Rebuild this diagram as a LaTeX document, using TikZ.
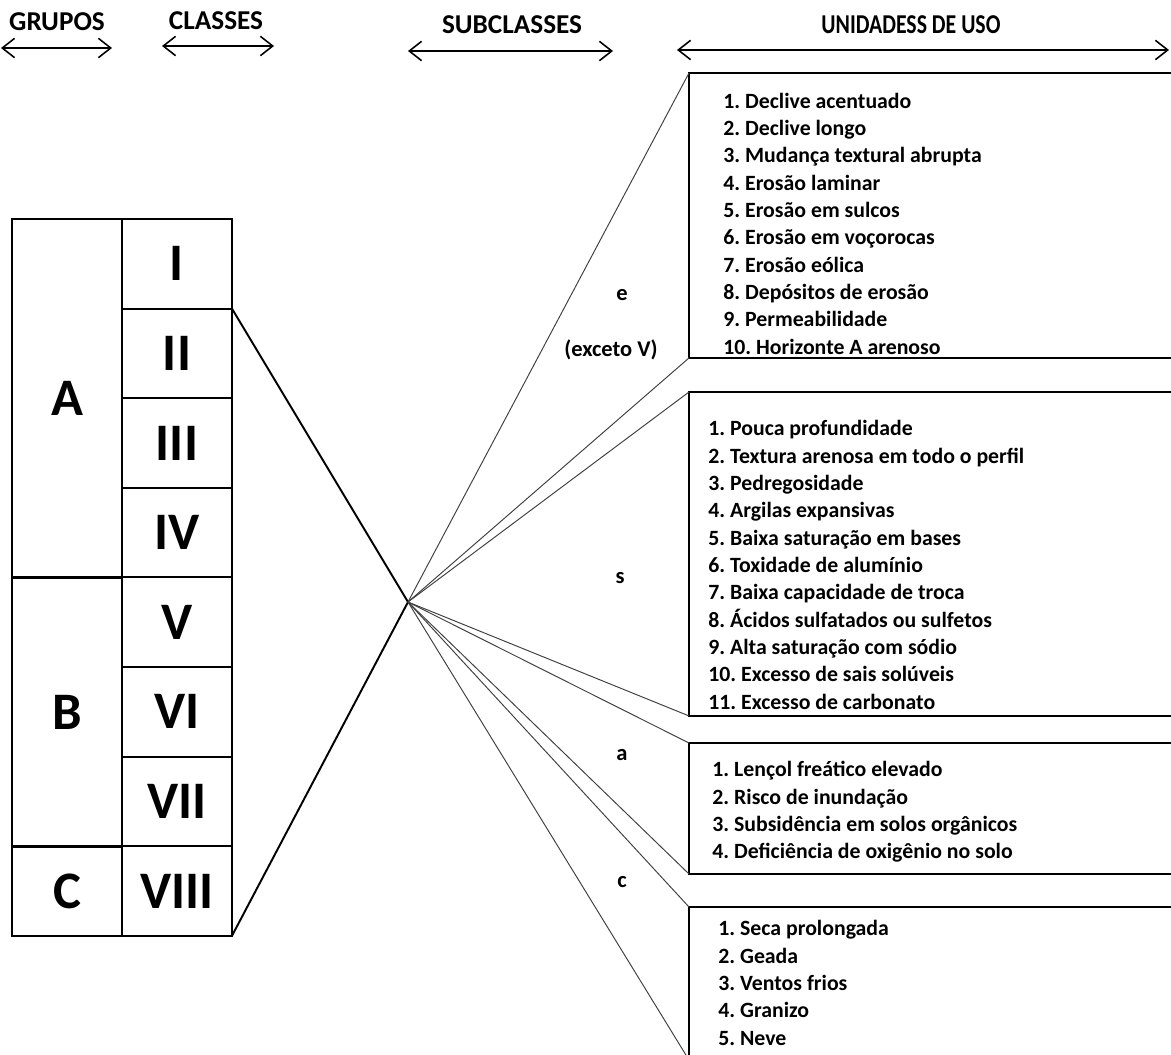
\documentclass[tikz,border=0pt]{standalone}
\usepackage{fontspec}
\setmainfont{Carlito}
\usetikzlibrary{arrows.meta}
\begin{document}
\begin{tikzpicture}[x=0.02cm,y=-0.02cm,
  cell/.style={draw,line width=1.1pt,inner sep=0pt,outer sep=0pt,minimum width=2.2cm,font=\fontsize{30}{36}\selectfont\bfseries},
  hdr/.style={font=\fontsize{15.5}{18}\selectfont\bfseries},
  span/.style={<->,line width=0.9pt,>={Straight Barb[length=7pt,width=11pt]}},
  ubox/.style={draw,line width=1.1pt,anchor=north west,inner sep=0pt,outer sep=0pt,minimum width=9.82cm},
  itemlist/.style={align=left,anchor=west,inner sep=0pt,font=\fontsize{12.4}{15.55}\selectfont\bfseries\frenchspacing},
  sublabel/.style={font=\fontsize{12.8}{15}\selectfont\bfseries},
  fan/.style={line width=0.55pt,black!75},
  link/.style={line width=1.1pt}]
\useasboundingbox (0,0) rectangle (1171,1055);
\clip (0,0) rectangle (1171,1055);

% headers
\node[hdr] (hG) at (57,22) {GRUPOS};
\node[hdr] (hC) at (216,21) {CLASSES};
\node[hdr] (hS) at (512,25) {SUBCLASSES};
\node[hdr] (hU) at (911,25) {\scalebox{0.8}[1]{UNIDADESS DE USO}};
\coordinate (gL) at (1,48);   \coordinate (gR) at (112,48);
\coordinate (cL) at (162,46); \coordinate (cR) at (274,46);
\coordinate (sL) at (408,51); \coordinate (sR) at (613,51);
\coordinate (uL) at (677,50); \coordinate (uR) at (1169,50);
\draw[span] (gL) -- (gR);
\draw[span] (cL) -- (cR);
\draw[span] (sL) -- (sR);
\draw[span] (uL) -- (uR);

% groups
\node[cell,minimum height=7.168cm] (A) at (67,398.2) {A};
\node[cell,minimum height=5.376cm] (B) at (67,712.2) {B};
\node[cell,minimum height=1.792cm] (C) at (67,891) {C};
% classes
\node[cell,minimum height=1.792cm] (c1) at (177,263.8) {I};
\node[cell,minimum height=1.792cm] (c2) at (177,353.4) {II};
\node[cell,minimum height=1.792cm] (c3) at (177,443) {III};
\node[cell,minimum height=1.792cm] (c4) at (177,532.6) {IV};
\node[cell,minimum height=1.792cm] (c5) at (177,622.2) {V};
\node[cell,minimum height=1.792cm] (c6) at (177,711.8) {VI};
\node[cell,minimum height=1.792cm] (c7) at (177,801.4) {VII};
\node[cell,minimum height=1.792cm] (c8) at (177,891) {VIII};

\coordinate (P) at (408,602);
\draw[link] (c2.north east) -- (P) -- (c8.south east);

% use-unit boxes
\node[ubox,minimum height=5.7cm] (eBox) at (689,73) {};
\node[ubox,minimum height=6.48cm] (sBox) at (689,392) {};
\node[ubox,minimum height=2.62cm] (aBox) at (689,743) {};
\node[ubox,minimum height=3.06cm] (cBox) at (689,907) {};

\draw[fan] (P) -- (eBox.north west);
\draw[fan] (P) -- (eBox.south west);
\draw[fan] (P) -- (sBox.north west);
\draw[fan] (P) -- (sBox.south west);
\draw[fan] (P) -- (aBox.north west);
\draw[fan] (P) -- (aBox.south west);
\draw[fan] (P) -- (cBox.north west);
\draw[fan] (P) -- (cBox.south west);

% subclass labels
\node[sublabel] (le) at (622,295) {e};
\node[sublabel] (lex) at (611,350) {(exceto V)};
\node[sublabel] (ls) at (620,578) {s};
\node[sublabel] (la) at (622,755) {a};
\node[sublabel] (lc) at (622,882) {c};

% lists
\node[itemlist] (eList) at (723,223.5) {1. Declive acentuado\\
2. Declive longo\\
3. Mudança textural abrupta\\
4. Erosão laminar\\
5. Erosão em sulcos\\
6. Erosão em voçorocas\\
7. Erosão eólica\\
8. Depósitos de erosão\\
9. Permeabilidade\\
10. Horizonte A arenoso};
\node[itemlist] (sList) at (708,565) {1. Pouca profundidade\\
2. Textura arenosa em todo o perfil\\
3. Pedregosidade\\
4. Argilas expansivas\\
5. Baixa saturação em bases\\
6. Toxidade de alumínio\\
7. Baixa capacidade de troca\\
8. Ácidos sulfatados ou sulfetos\\
9. Alta saturação com sódio\\
10. Excesso de sais solúveis\\
11. Excesso de carbonato};
\node[itemlist] (aList) at (712,812) {1. Lençol freático elevado\\
2. Risco de inundação\\
3. Subsidência em solos orgânicos\\
4. Deficiência de oxigênio no solo};
\node[itemlist] (cList) at (718,983) {1. Seca prolongada\\
2. Geada\\
3. Ventos frios\\
4. Granizo\\
5. Neve};
\end{tikzpicture}
\end{document}
